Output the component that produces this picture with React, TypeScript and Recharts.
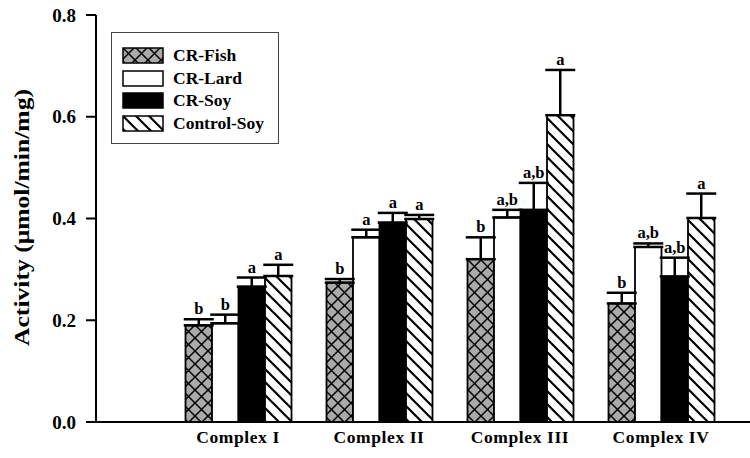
import React from 'react';
import { BarChart, Bar, XAxis, YAxis, ErrorBar, LabelList, Legend } from 'recharts';

const FONT = '"Liberation Serif", "Times New Roman", Times, serif';

const categories = ['Complex I', 'Complex II', 'Complex III', 'Complex IV'];

const fishValues = [0.19, 0.274, 0.32, 0.233];
const fishErrors = [0.012, 0.007, 0.043, 0.021];
const fishLetters = ['b', 'b', 'b', 'b'];

const lardValues = [0.194, 0.363, 0.402, 0.344];
const lardErrors = [0.017, 0.015, 0.015, 0.007];
const lardLetters = ['b', 'a', 'a,b', 'a,b'];

const soyValues = [0.266, 0.392, 0.417, 0.286];
const soyErrors = [0.018, 0.019, 0.053, 0.037];
const soyLetters = ['a', 'a', 'a,b', 'a,b'];

const controlValues = [0.287, 0.399, 0.603, 0.401];
const controlErrors = [0.022, 0.008, 0.089, 0.048];
const controlLetters = ['a', 'a', 'a', 'a'];

const yTicks = [0, 0.2, 0.4, 0.6, 0.8];
const yLabel = 'Activity (μmol/min/mg)';

const series = [
  { key: 'fish', name: 'CR-Fish', fill: 'url(#crossHatch)', values: fishValues, errors: fishErrors, letters: fishLetters },
  { key: 'lard', name: 'CR-Lard', fill: '#ffffff', values: lardValues, errors: lardErrors, letters: lardLetters },
  { key: 'soy', name: 'CR-Soy', fill: '#000000', values: soyValues, errors: soyErrors, letters: soyLetters },
  { key: 'control', name: 'Control-Soy', fill: 'url(#diagHatch)', values: controlValues, errors: controlErrors, letters: controlLetters },
];

const data = categories.map((name, i) => {
  const row: Record<string, any> = { name };
  series.forEach((s) => {
    row[s.key] = s.values[i];
    row[s.key + 'Err'] = [0, s.errors[i]];
  });
  return row;
});

const Patterns = () => (
  <svg width={0} height={0} style={{ position: 'absolute' }}>
    <defs>
      <pattern id="crossHatch" patternUnits="userSpaceOnUse" width={13} height={13}>
        <rect x={0} y={0} width={13} height={13} fill="#aaaaaa" />
        <path d="M0,0 L13,13 M13,0 L0,13" stroke="#000" strokeWidth={1.5} />
      </pattern>
      <pattern id="diagHatch" patternUnits="userSpaceOnUse" width={13} height={13}>
        <rect x={0} y={0} width={13} height={13} fill="#ffffff" />
        <path d="M-2,11 L2,15 M0,0 L13,13 M11,-2 L15,2" stroke="#000" strokeWidth={2.2} />
      </pattern>
    </defs>
  </svg>
);

const makeLetter = (errors: number[], letters: string[]) => (props: any) => {
  const x = Number(props.x);
  const y = Number(props.y);
  const width = Number(props.width);
  const height = Number(props.height);
  const value = Number(props.value);
  const index = props.index;
  const ppu = value ? height / value : 0;
  const top = y - errors[index] * ppu;
  return (
    <text
      x={x + width / 2}
      y={top - 5}
      textAnchor="middle"
      fontFamily={FONT}
      fontWeight="bold"
      fontSize={16.5}
      fill="#000"
    >
      {letters[index]}
    </text>
  );
};

const LegendBox = () => (
  <div
    style={{
      border: '1.5px solid #444',
      padding: '11.5px 0 0 10px',
      width: 156,
      height: 98.5,
      boxSizing: 'content-box',
      background: '#fff',
    }}
  >
    {series.map((s) => (
      <div key={s.key} style={{ display: 'flex', alignItems: 'center', height: 22.5 }}>
        <svg width={42} height={17} style={{ display: 'block' }}>
          <rect x={1} y={1} width={40} height={15} fill={s.fill} stroke="#000" strokeWidth={1.5} />
        </svg>
        <span
          style={{
            fontFamily: FONT,
            fontWeight: 'bold',
            fontSize: 17.5,
            marginLeft: 9,
            color: '#000',
            lineHeight: 1,
            whiteSpace: 'nowrap',
          }}
        >
          {s.name}
        </span>
      </div>
    ))}
  </div>
);

const YLabel = (props: any) => {
  const vb = props.viewBox || { x: 0, y: 0, width: 0, height: 0 };
  const cx = 21;
  const cy = vb.y + vb.height / 2 - 1;
  return (
    <text
      x={cx}
      y={cy}
      transform={`rotate(-90, ${cx}, ${cy})`}
      textAnchor="middle"
      dominantBaseline="central"
      fontFamily={FONT}
      fontWeight="bold"
      fontSize={22}
      textLength={257}
      lengthAdjust="spacingAndGlyphs"
      fill="#000"
    >
      {yLabel}
    </text>
  );
};

export default function App() {
  return (
    <div style={{ position: 'fixed', left: 0, top: 0, width: 750, height: 458, background: '#fff' }}>
      <Patterns />
      <BarChart
        width={750}
        height={458}
        data={data}
        margin={{ top: 15, right: 0, bottom: 0, left: 0 }}
        barGap={0}
      >
        <XAxis
          dataKey="name"
          type="category"
          height={36}
          padding={{ left: 71.5, right: 18.5 }}
          axisLine={{ stroke: '#000', strokeWidth: 2 }}
          tickLine={false}
          tickSize={0}
          tickMargin={9}
          tick={{ fontFamily: FONT, fontWeight: 'bold', fontSize: 17.5, fill: '#000', letterSpacing: 0.6 }}
          interval={0}
        />
        <YAxis
          type="number"
          domain={[0, 0.8]}
          ticks={yTicks}
          width={96}
          tickSize={10}
          tickMargin={10}
          allowDataOverflow
          axisLine={{ stroke: '#000', strokeWidth: 2 }}
          tickLine={{ stroke: '#000', strokeWidth: 2 }}
          tick={{ fontFamily: FONT, fontWeight: 'bold', fontSize: 19, fill: '#000' }}
          tickFormatter={(v: number) => v.toFixed(1)}
          label={<YLabel />}
        />
        <Legend
          layout="vertical"
          align="center"
          verticalAlign="middle"
          content={() => <LegendBox />}
          wrapperStyle={{ left: 111, top: 32, width: 170, height: 115 }}
        />
        {series.map((s) => (
          <Bar
            key={s.key}
            dataKey={s.key}
            name={s.name}
            fill={s.fill}
            stroke="#000"
            strokeWidth={1.8}
            barSize={26.5}
            isAnimationActive={false}
          >
            <ErrorBar dataKey={s.key + 'Err'} width={15} stroke="#000" strokeWidth={2.5} direction="y" />
            <LabelList dataKey={s.key} content={makeLetter(s.errors, s.letters)} />
          </Bar>
        ))}
      </BarChart>
    </div>
  );
}
